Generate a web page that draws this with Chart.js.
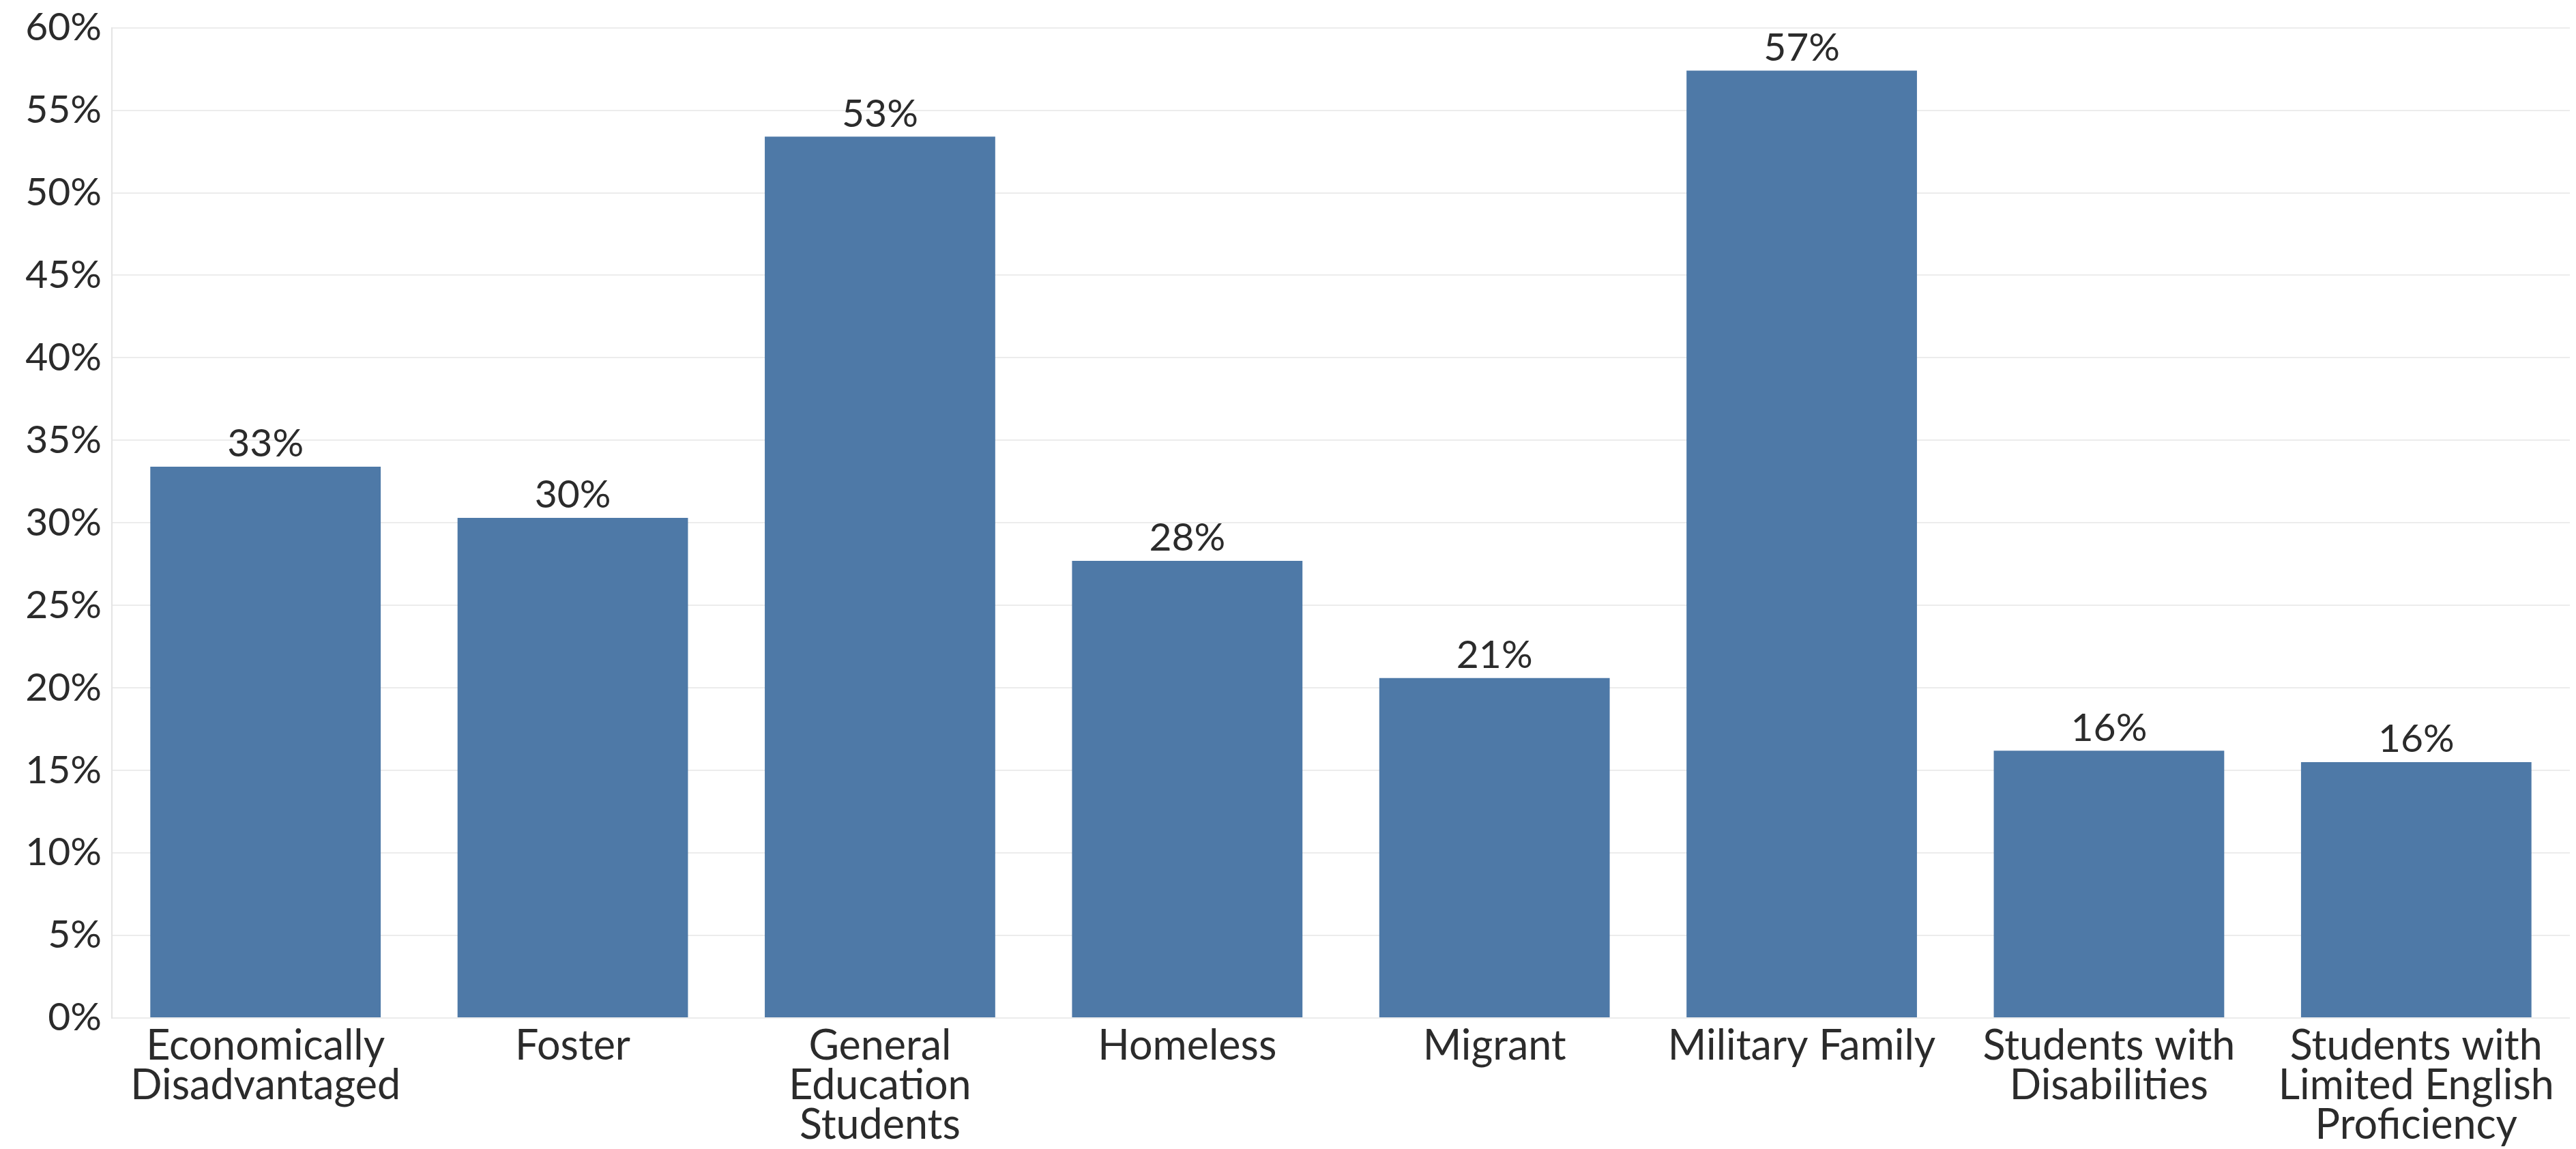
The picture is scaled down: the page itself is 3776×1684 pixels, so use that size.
<!DOCTYPE html>
<html lang="en">
<head>
    <meta charset="UTF-8">
    <title>Student groups</title>
    <script src="https://cdn.jsdelivr.net/npm/chart.js"></script>
    <style>
        html, body { margin: 0; padding: 0; background: #fff; }
        #wrap { width: 3776px; height: 1684px; position: relative; }
    </style>
</head>
<body>
    <div id="wrap"><canvas id="barChart"></canvas></div>

    <script>
        // data
        const categories = [
            ['Economically', 'Disadvantaged'],
            ['Foster'],
            ['General', 'Education', 'Students'],
            ['Homeless'],
            ['Migrant'],
            ['Military Family'],
            ['Students with', 'Disabilities'],
            ['Students with', 'Limited English', 'Proficiency']
        ];
        const values = [33.4, 30.3, 53.4, 27.7, 20.6, 57.4, 16.2, 15.5];
        const yTicks = [0, 5, 10, 15, 20, 25, 30, 35, 40, 45, 50, 55, 60];

        const FONT = 'Lato, "Open Sans", sans-serif';
        const TEXT = '#2b2b2b';

        // value labels above each bar
        const barLabels = {
            id: 'barLabels',
            afterDatasetsDraw(chart) {
                const ctx = chart.ctx;
                const meta = chart.getDatasetMeta(0);
                ctx.save();
                ctx.font = '57px ' + FONT;
                ctx.fillStyle = TEXT;
                ctx.textAlign = 'center';
                ctx.textBaseline = 'middle';
                meta.data.forEach((bar, i) => {
                    ctx.fillText(Math.round(values[i]) + '%', bar.x, bar.y - 33);
                });
                ctx.restore();
            }
        };

        const ctx = document.getElementById('barChart').getContext('2d');
        new Chart(ctx, {
            type: 'bar',
            data: {
                labels: categories,
                datasets: [{
                    data: values,
                    backgroundColor: '#4e79a7',
                    barPercentage: 0.75,
                    categoryPercentage: 1.0
                }]
            },
            options: {
                responsive: true,
                maintainAspectRatio: false,
                animation: false,
                layout: { padding: { top: 38, right: 9, left: 0, bottom: 0 } },
                plugins: {
                    legend: { display: false },
                    tooltip: { enabled: false }
                },
                scales: {
                    x: {
                        afterFit(scale) { scale.height = 192; },
                        grid: { display: false },
                        border: { display: false },
                        ticks: {
                            color: TEXT,
                            padding: 4,
                            maxRotation: 0,
                            autoSkip: false,
                            font: { family: FONT, size: 61, lineHeight: 0.95 }
                        }
                    },
                    y: {
                        min: 0,
                        max: 60,
                        afterFit(scale) { scale.width = 164; },
                        afterBuildTicks(scale) {
                            scale.ticks = yTicks.map(v => ({ value: v }));
                        },
                        grid: { color: '#ececec', lineWidth: 2, drawTicks: false },
                        border: { display: true, color: '#e4e4e4', width: 2 },
                        ticks: {
                            color: TEXT,
                            padding: 15,
                            font: { family: FONT, size: 57, lineHeight: 0.9 },
                            callback: v => v + '%'
                        }
                    }
                }
            },
            plugins: [barLabels]
        });
    </script>
</body>
</html>
